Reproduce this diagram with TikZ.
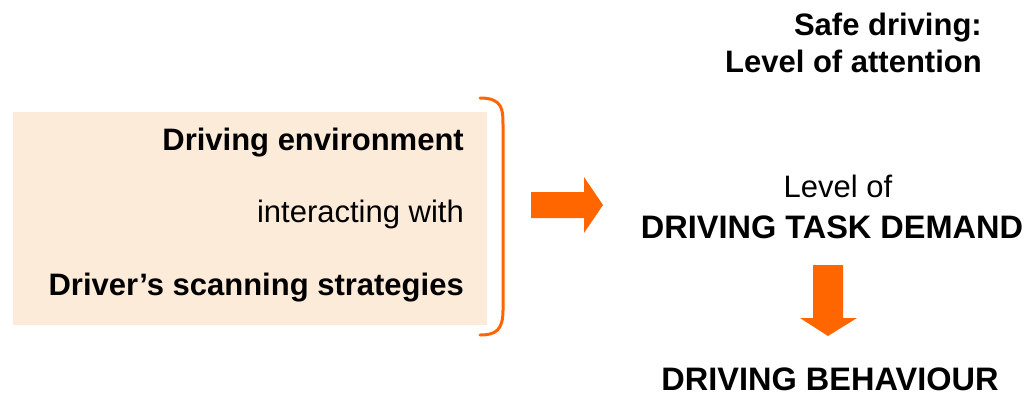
\documentclass[tikz,border=0pt]{standalone}
\usepackage{fontspec}
\setmainfont{Liberation Sans}
\usepackage{xcolor}
\usetikzlibrary{positioning}
\definecolor{boxfill}{HTML}{FDEBD9}
\definecolor{arrowcolor}{HTML}{FF6600}

\begin{document}
\begin{tikzpicture}[x=1pt,y=-1pt,
    boldtext/.style={font=\fontsize{31}{36}\selectfont\bfseries,inner sep=0pt},
    plaintext/.style={font=\fontsize{31}{36}\selectfont,inner sep=0pt},
    capstext/.style={font=\fontsize{32.5}{38}\selectfont\bfseries,inner sep=0pt}]
\useasboundingbox (0,0) rectangle (1025,397);
% shaded box with the three lines
\fill[boxfill] (13,112) rectangle (487,325);
\node[boldtext,anchor=base east] (env) at (464,150) {Driving environment};
\node[plaintext,anchor=base east] (inter) at (464,222) {interacting with};
\node[boldtext,anchor=base east] (scan) at (464,295) {Driver’s scanning strategies};
% bracket
\draw[arrowcolor,line width=3pt,line cap=round] (480,98) .. controls (503,98) and (503,110) .. (503,125)
    -- (503,310) .. controls (503,330) and (496,335) .. (480,335);
% right side
\node[boldtext,anchor=base east] (safe) at (982,35) {Safe driving:};
\node[boldtext,anchor=base east] (att) at (982,72) {Level of attention};
\node[plaintext,anchor=base] (lvl) at (838,197) {Level of};
\node[capstext,anchor=base] (demand) at (832,238) {DRIVING TASK DEMAND};
\node[capstext,anchor=base] (behav) at (830,390) {DRIVING BEHAVIOUR};
% block arrows
\fill[arrowcolor] (531,192) -- (584,192) -- (584,177) -- (603,205) -- (584,233) -- (584,218) -- (531,218) -- cycle;
\fill[arrowcolor] (813,265) -- (843,265) -- (843,318) -- (857,318) -- (828,336) -- (800,318) -- (813,318) -- cycle;
\end{tikzpicture}
\end{document}
